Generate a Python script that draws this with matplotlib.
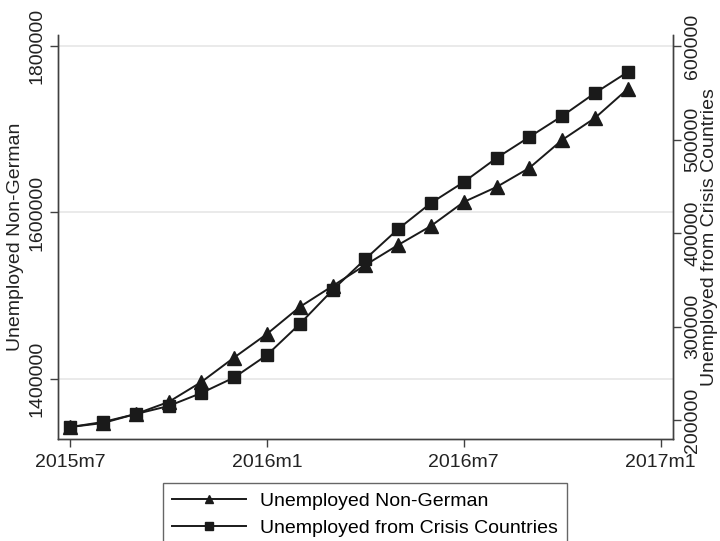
import numpy as np
import matplotlib
matplotlib.use("Agg")
import matplotlib.pyplot as plt

plt.rcParams['font.family'] = ['Liberation Sans', 'DejaVu Sans']

# months 2015m7 .. 2016m12
meses = np.arange(18)
etiquetas_x = ["2015m7", "2016m1", "2016m7", "2017m1"]
pos_x = [0, 6, 12, 18]

no_aleman = [1342300, 1347100, 1358000, 1372400, 1396400, 1425800,
             1454100, 1486500, 1511700, 1536900, 1561000, 1583800,
             1612600, 1630600, 1653500, 1687100, 1713500, 1748400]

paises_crisis = [192500, 197900, 206400, 215000, 228900, 245500,
                 269500, 302700, 339000, 372200, 404300, 432100,
                 454500, 480200, 502700, 525100, 549700, 572200]

ticks_izq = [1400000, 1600000, 1800000]
ticks_der = [200000, 300000, 400000, 500000, 600000]

color = "#1a1a1a"
eje = "#404040"
texto = "#222222"
fs = 14

fig = plt.figure(figsize=(7.2, 5.41), dpi=100)
ax = fig.add_axes([0.0806, 0.1885, 0.8541, 0.7468])
ax2 = ax.twinx()

l1, = ax.plot(meses, no_aleman, color=color, lw=1.4, marker="^",
              markersize=10, label="Unemployed Non-German")
l2, = ax2.plot(meses, paises_crisis, color=color, lw=1.4, marker="s",
               markersize=9, label="Unemployed from Crisis Countries")

ax.set_xlim(-0.37, 18.38)
ax.set_ylim(1327900, 1813200)
ax2.set_ylim(179700, 611800)

ax.set_xticks(pos_x)
ax.set_xticklabels(etiquetas_x)
ax.set_yticks(ticks_izq)
ax.set_yticklabels([str(t) for t in ticks_izq])
ax2.set_yticks(ticks_der)
ax2.set_yticklabels([str(t) for t in ticks_der])

ax.grid(axis="y", color="#e6e6e6", lw=1.2)
ax.set_axisbelow(True)

for a in (ax, ax2):
    a.spines["top"].set_visible(False)
    for s in ("left", "right", "bottom"):
        a.spines[s].set_color(eje)
        a.spines[s].set_linewidth(1.0)
    a.tick_params(colors=eje, labelcolor=texto, labelsize=fs,
                  length=6, width=1.0)

ax.tick_params(axis="y", labelrotation=90, pad=3)
ax2.tick_params(axis="y", labelrotation=90, pad=2)
ax.tick_params(axis="x", pad=5)
for lab in ax.get_yticklabels() + ax2.get_yticklabels():
    lab.set_va("center")

ax.set_ylabel("Unemployed Non-German", fontsize=fs, color=texto, labelpad=3)
ax2.set_ylabel("Unemployed from Crisis Countries", fontsize=fs,
               color=texto, labelpad=0)

leg = fig.legend(handles=[l1, l2], loc="upper center",
                 bbox_to_anchor=(0.507, 0.108), ncol=1, fontsize=fs,
                 frameon=True, fancybox=False, handlelength=3.8,
                 handletextpad=0.7, borderpad=0.5, labelspacing=0.5,
                 markerscale=0.6, borderaxespad=0)
leg.get_frame().set_edgecolor(eje)
leg.get_frame().set_linewidth(1.0)

fig.savefig("out.png", dpi=100)
